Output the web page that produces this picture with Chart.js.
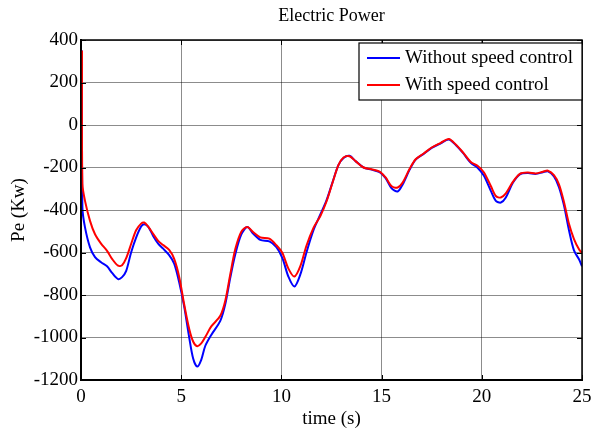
<!DOCTYPE html>
<html>
<head>
<meta charset="utf-8">
<script src="https://cdn.jsdelivr.net/npm/chart.js@4.4.0/dist/chart.umd.min.js"></script>
<style>
  body { margin: 0; background: #fff; }
</style>
</head>
<body>
<canvas id="mycanvas" width="592" height="433"></canvas>
<script>
// time samples (s)
var time = [0.05, 0.07, 0.2, 0.45, 0.7, 1.0, 1.3, 1.55, 1.85, 2.05, 2.25, 2.5, 2.75, 3.0, 3.15, 3.35, 3.6, 3.85, 4.1, 4.4,
  4.65, 4.9, 5.15, 5.4, 5.6, 5.8, 6.0, 6.2, 6.5, 6.95, 7.2, 7.45, 7.7, 8.0, 8.3, 8.6, 8.95, 9.4, 9.75, 10.05,
  10.35, 10.65, 10.95, 11.25, 11.6, 11.95, 12.25, 12.55, 12.85, 13.1, 13.4, 13.7, 14.1, 14.5, 14.9, 15.2, 15.5, 15.8, 16.05, 16.4,
  16.7, 17.1, 17.5, 17.95, 18.35, 18.7, 19.05, 19.45, 19.8, 20.1, 20.45, 20.7, 20.95, 21.2, 21.55, 21.9, 22.3, 22.7, 23.05, 23.3,
  23.6, 23.85, 24.1, 24.35, 24.6, 24.85, 25];

// Pe (Kw) without speed control
var peWithout = [350, -390, -482, -576, -622, -646, -665, -696, -725, -716, -688, -600, -530, -478, -467, -478, -522, -558, -582, -612,
  -652, -740, -855, -1000, -1100, -1137, -1105, -1040, -988, -922, -843, -718, -608, -515, -480, -512, -541, -548, -575, -626,
  -714, -760, -702, -600, -495, -420, -355, -270, -188, -155, -145, -170, -200, -210, -222, -250, -298, -313, -280, -210,
  -163, -136, -108, -86, -68, -94, -130, -178, -202, -238, -310, -357, -365, -341, -272, -232, -226, -230, -222, -218,
  -242, -292, -378, -495, -590, -632, -665];

// Pe (Kw) with speed control
var peWith = [350, -278, -357, -451, -514, -558, -592, -630, -662, -660, -628, -560, -495, -464, -459, -478, -512, -545, -565, -588,
  -630, -715, -845, -960, -1020, -1041, -1028, -998, -948, -898, -827, -702, -584, -502, -480, -505, -529, -535, -566, -602,
  -676, -713, -663, -568, -484, -427, -360, -272, -188, -153, -147, -170, -200, -208, -219, -247, -288, -294, -271, -206,
  -161, -134, -106, -84, -66, -92, -128, -174, -193, -222, -287, -334, -341, -322, -268, -230, -224, -228, -220, -215,
  -236, -279, -362, -465, -537, -585, -602];

var seriesLabels = ['Without speed control', 'With speed control'];
var xTicks = [0, 5, 10, 15, 20, 25];
var yTicks = [-1200, -1000, -800, -600, -400, -200, 0, 200, 400];

function toPoints(vals) {
  var pts = [];
  for (var i = 0; i < time.length; i++) pts.push({x: time[i], y: vals[i]});
  return pts;
}

var FONT = 'Liberation Serif, Times New Roman, serif';

// black box + inward tick marks, MATLAB style
var framePlugin = {
  id: 'frame',
  afterDatasetsDraw: function(chart) {
    var a = chart.chartArea, ctx = chart.ctx;
    var xs = chart.scales.x, ys = chart.scales.y;
    ctx.save();
    ctx.strokeStyle = '#000';
    ctx.lineWidth = 1;
    ctx.beginPath();
    xTicks.forEach(function(v) {
      var px = Math.round(xs.getPixelForValue(v)) + 0.5;
      ctx.moveTo(px, a.bottom); ctx.lineTo(px, a.bottom - 5);
      ctx.moveTo(px, a.top); ctx.lineTo(px, a.top + 5);
    });
    yTicks.forEach(function(v) {
      var py = Math.round(ys.getPixelForValue(v)) + 0.5;
      ctx.moveTo(a.left, py); ctx.lineTo(a.left + 5, py);
      ctx.moveTo(a.right, py); ctx.lineTo(a.right - 5, py);
    });
    ctx.stroke();
    ctx.lineWidth = 1.5;
    ctx.strokeRect(a.left, a.top, a.right - a.left, a.bottom - a.top);
    ctx.restore();
  },
  afterDraw: function(chart) {
    var a = chart.chartArea, ctx = chart.ctx;
    ctx.save();
    // title
    ctx.fillStyle = '#000';
    ctx.font = '18px ' + FONT;
    ctx.textAlign = 'center';
    ctx.textBaseline = 'middle';
    ctx.fillText('Electric Power', (a.left + a.right) / 2, 16);
    // legend box
    var bx = 359, by = 43, bw = a.right - bx, bh = 57;
    ctx.fillStyle = '#fff';
    ctx.fillRect(bx, by, bw, bh);
    ctx.strokeStyle = '#000';
    ctx.lineWidth = 1.2;
    ctx.strokeRect(bx, by, bw, bh);
    ctx.font = '19px ' + FONT;
    ctx.textAlign = 'left';
    chart.data.datasets.forEach(function(ds, i) {
      var ly = by + 15 + i * 27;
      ctx.strokeStyle = ds.borderColor;
      ctx.lineWidth = 2;
      ctx.beginPath();
      ctx.moveTo(367, ly); ctx.lineTo(400, ly);
      ctx.stroke();
      ctx.fillStyle = '#000';
      ctx.fillText(ds.label, 405, ly);
    });
    ctx.restore();
  }
};

function plainLabel(v) { return String(v); }

var ctx = document.getElementById('mycanvas');
var chart = new Chart(ctx, {
  type: 'line',
  data: {
    datasets: [
      {
        label: seriesLabels[0],
        data: toPoints(peWithout),
        borderColor: '#0000ff',
        borderWidth: 2,
        pointRadius: 0,
        tension: 0.3,
        order: 1
      },
      {
        label: seriesLabels[1],
        data: toPoints(peWith),
        borderColor: '#ff0000',
        borderWidth: 2,
        pointRadius: 0,
        tension: 0.3,
        order: 0
      }
    ]
  },
  options: {
    responsive: false,
    animation: false,
    layout: { padding: { top: 40, right: 10, left: 0, bottom: 0 } },
    plugins: {
      legend: { display: false },
      tooltip: { enabled: false }
    },
    scales: {
      x: {
        type: 'linear',
        min: 0,
        max: 25,
        afterBuildTicks: function(s) { s.ticks = xTicks.map(function(v) { return {value: v}; }); },
        afterFit: function(s) { s.height = 53; s.paddingLeft = 0; s.paddingRight = 0; },
        ticks: { color: '#000', font: { family: FONT, size: 19 }, padding: 6, maxRotation: 0, callback: plainLabel },
        grid: { color: 'rgba(0,0,0,0.45)', lineWidth: 1, drawTicks: false },
        border: { color: '#000', width: 2 },
        title: { display: true, text: 'time (s)', color: '#000', font: { family: FONT, size: 19 }, padding: { top: 0, bottom: 3 } }
      },
      y: {
        min: -1200,
        max: 400,
        afterBuildTicks: function(s) { s.ticks = yTicks.map(function(v) { return {value: v}; }); },
        afterFit: function(s) { s.width = 81; s.paddingTop = 0; s.paddingBottom = 0; },
        ticks: { color: '#000', font: { family: FONT, size: 19 }, padding: 3, callback: plainLabel },
        grid: { color: 'rgba(0,0,0,0.45)', lineWidth: 1, drawTicks: false },
        border: { color: '#000', width: 2 },
        title: { display: true, text: 'Pe (Kw)', color: '#000', font: { family: FONT, size: 19 }, padding: { top: 8, bottom: 0 } }
      }
    }
  },
  plugins: [framePlugin]
});
</script>
</body>
</html>
